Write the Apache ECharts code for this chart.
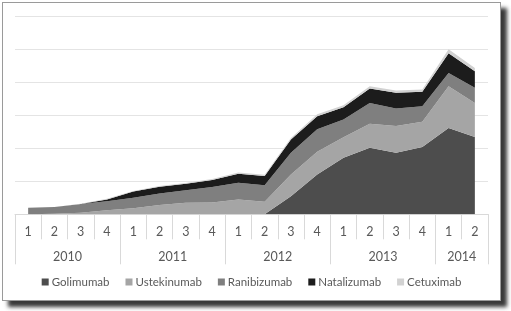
<!DOCTYPE html>
<html>
<head>
<meta charset="utf-8">
<script src="https://cdn.jsdelivr.net/npm/echarts@6/dist/echarts.min.js"></script>
<style>
  html, body { margin: 0; padding: 0; background: #fff; }
  .frame {
    position: absolute;
    left: 2px;
    top: 2px;
    width: 497px;
    height: 297px;
    border: 1px solid #9a9a9a;
    background: #fff;
    box-shadow: 6px 6px 4px rgba(0, 0, 0, 0.78);
  }
  #chart { width: 497px; height: 297px; }
</style>
</head>
<body>
<div class="frame"><div id="chart"></div></div>
<script>
const quarters = ['1', '2', '3', '4', '1', '2', '3', '4', '1', '2', '3', '4', '1', '2', '3', '4', '1', '2']
const years = ['2010', '2011', '2012', '2013', '2014']
const yearCenters = [2, 6, 10, 14, 17]
const yearBounds = [0, 4, 8, 12, 16, 18]

const golimumab   = [0, 0, 0, 0, 0, 0, 0, 0, 0, 0, 0.55, 1.21, 1.72, 2.02, 1.87, 2.04, 2.62, 2.35]
const ustekinumab = [0, 0.02, 0.05, 0.12, 0.18, 0.28, 0.35, 0.36, 0.45, 0.38, 0.66, 0.69, 0.62, 0.73, 0.81, 0.77, 1.27, 1.03]
const ranibizumab = [0.2, 0.2, 0.26, 0.28, 0.32, 0.35, 0.38, 0.47, 0.51, 0.5, 0.66, 0.68, 0.54, 0.63, 0.53, 0.47, 0.4, 0.46]
const natalizumab = [0, 0, 0, 0.05, 0.19, 0.21, 0.2, 0.21, 0.27, 0.28, 0.4, 0.4, 0.37, 0.44, 0.48, 0.44, 0.6, 0.5]
const cetuximab   = [0, 0, 0.01, 0.02, 0.02, 0.02, 0.02, 0.03, 0.04, 0.04, 0.05, 0.06, 0.06, 0.07, 0.07, 0.07, 0.12, 0.1]

const names = ['Golimumab', 'Ustekinumab', 'Ranibizumab', 'Natalizumab', 'Cetuximab']
const colors = ['#4d4d4d', '#a5a5a5', '#7f7f7f', '#1c1c1c', '#d2d2d2']
const values = [golimumab, ustekinumab, ranibizumab, natalizumab, cetuximab]

const chart = echarts.init(document.getElementById('chart'))

const font = 'Lato, "Noto Sans", sans-serif'

chart.setOption({
  animation: false,
  grid: { left: 12, right: 12, top: 13.7, bottom: 85.7 },
  legend: {
    bottom: 7,
    left: 'center',
    icon: 'rect',
    itemWidth: 7,
    itemHeight: 7,
    itemGap: 16,
    textStyle: { color: '#595959', fontSize: 11.5, fontFamily: font, padding: [0, 0, 0, -2] },
    data: names
  },
  xAxis: [
    {
      type: 'category',
      data: quarters,
      boundaryGap: true,
      axisLine: { lineStyle: { color: '#d9d9d9' } },
      axisTick: { show: true, interval: 0, length: 25, lineStyle: { color: '#d9d9d9' } },
      axisLabel: { interval: 0, color: '#595959', fontSize: 12.5, fontFamily: font, margin: 11 }
    },
    {
      type: 'value',
      position: 'bottom',
      min: 0,
      max: 18,
      splitLine: { show: false },
      axisLine: { show: false },
      axisTick: {
        show: true,
        customValues: yearBounds,
        length: 50,
        lineStyle: { color: '#d9d9d9' }
      },
      axisLabel: {
        customValues: yearCenters,
        color: '#595959',
        fontSize: 12.5,
        fontFamily: font,
        margin: 36,
        formatter: (v) => years[yearCenters.indexOf(v)] || ''
      }
    }
  ],
  yAxis: {
    type: 'value',
    min: 0,
    max: 6,
    interval: 1,
    axisLine: { show: false },
    axisTick: { show: false },
    axisLabel: { show: false },
    splitLine: { lineStyle: { color: '#e4e4e4' } }
  },
  series: names.map((name, i) => ({
    name: name,
    type: 'line',
    stack: 'total',
    data: values[i],
    symbol: 'none',
    lineStyle: { width: 0 },
    itemStyle: { color: colors[i] },
    areaStyle: { color: colors[i], opacity: 1 }
  }))
})
</script>
</body>
</html>
